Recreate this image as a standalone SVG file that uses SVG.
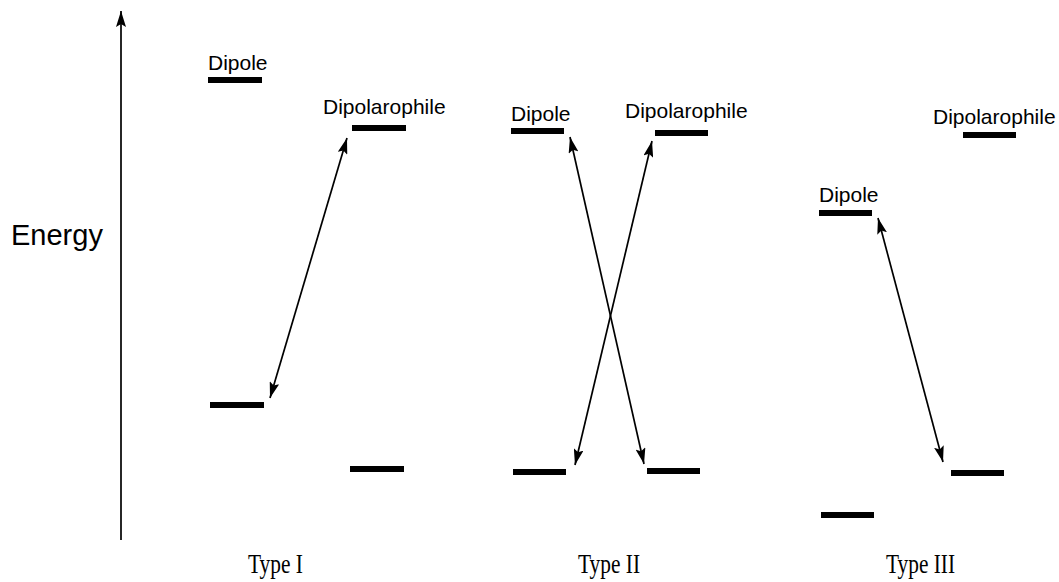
<svg xmlns="http://www.w3.org/2000/svg" width="1059" height="582" viewBox="0 0 1059 582">
<style>
.bar{fill:#000}
.lbl{font-family:"Liberation Sans",Arial,sans-serif;font-size:21px;fill:#000}
.typ{font-family:"Liberation Serif","Times New Roman",serif;font-size:28px;fill:#000}
.ax{font-family:"Liberation Sans",Arial,sans-serif;font-size:29px;fill:#000}
.ln{stroke:#000;stroke-width:1.7;fill:none}
</style>
<defs>
<marker id="ah" viewBox="0 0 16 10" refX="16" refY="5" markerWidth="16" markerHeight="10" markerUnits="userSpaceOnUse" orient="auto-start-reverse">
<path d="M0,0 L16,5 L0,10 L3,5 z" fill="#000"/>
</marker>
</defs>
<rect width="1059" height="582" fill="#fff"/>
<g id="axis">
<line class="ln" x1="121" y1="540" x2="121" y2="11" marker-end="url(#ah)"/>
<text class="ax" x="11" y="245">Energy</text>
</g>
<g id="type1">
<g id="t1-dipole"><text class="lbl" x="208" y="70">Dipole</text><rect class="bar" x="208" y="77" width="54" height="6"/></g>
<g id="t1-dipolarophile"><text class="lbl" x="323" y="114">Dipolarophile</text><rect class="bar" x="352" y="125" width="54" height="6"/></g>
<g id="t1-low1"><rect class="bar" x="210" y="402" width="54" height="6"/></g>
<g id="t1-low2"><rect class="bar" x="350" y="466" width="54" height="6"/></g>
<text class="typ" x="248" y="573" textLength="55" lengthAdjust="spacingAndGlyphs">Type I</text>
</g>
<g id="type2">
<g id="t2-dipole"><text class="lbl" x="511" y="121">Dipole</text><rect class="bar" x="511" y="128" width="53" height="6"/></g>
<g id="t2-dipolarophile"><text class="lbl" x="625" y="118">Dipolarophile</text><rect class="bar" x="655" y="130" width="53" height="6"/></g>
<g id="t2-low1"><rect class="bar" x="513" y="469" width="53" height="6"/></g>
<g id="t2-low2"><rect class="bar" x="647" y="468" width="53" height="6"/></g>
<text class="typ" x="578" y="573" textLength="62" lengthAdjust="spacingAndGlyphs">Type II</text>
</g>
<g id="type3">
<g id="t3-dipolarophile"><text class="lbl" x="933" y="124">Dipolarophile</text><rect class="bar" x="963" y="132" width="53" height="6"/></g>
<g id="t3-dipole"><text class="lbl" x="819" y="202">Dipole</text><rect class="bar" x="819" y="210" width="53" height="6"/></g>
<g id="t3-low1"><rect class="bar" x="821" y="512" width="53" height="6"/></g>
<g id="t3-low2"><rect class="bar" x="951" y="470" width="53" height="6"/></g>
<text class="typ" x="886" y="573" textLength="69" lengthAdjust="spacingAndGlyphs">Type III</text>
</g>
<g id="connectors">
<line class="ln" x1="347" y1="138" x2="270" y2="398" marker-start="url(#ah)" marker-end="url(#ah)"/>
<line class="ln" x1="570" y1="137" x2="644" y2="464" marker-start="url(#ah)" marker-end="url(#ah)"/>
<line class="ln" x1="652" y1="141" x2="575" y2="465" marker-start="url(#ah)" marker-end="url(#ah)"/>
<line class="ln" x1="878" y1="218" x2="943" y2="462" marker-start="url(#ah)" marker-end="url(#ah)"/>
</g>
</svg>
